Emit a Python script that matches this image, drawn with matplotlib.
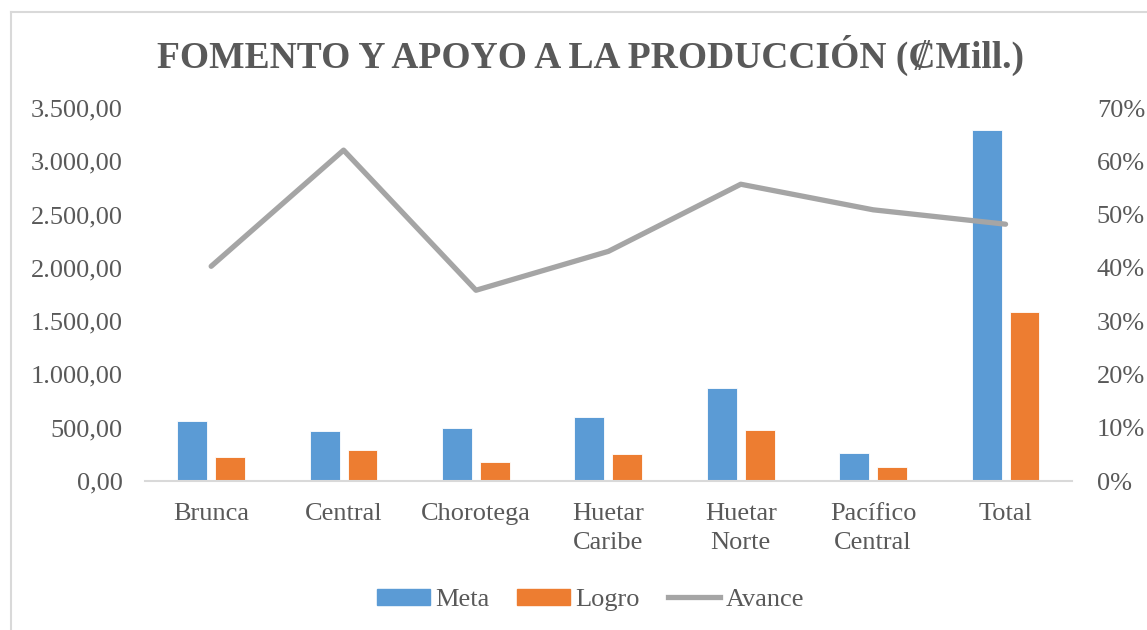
import numpy as np
import matplotlib
matplotlib.use("Agg")
import matplotlib.pyplot as plt
from matplotlib.ticker import FuncFormatter, MultipleLocator
from matplotlib.lines import Line2D

# datos
regiones = ["Brunca", "Central", "Chorotega", "Huetar\nCaribe", "Huetar\nNorte",
            "Pacífico\nCentral", "Total"]
meta = [564, 468, 499, 602, 872, 261, 3293]
logro = [226, 289, 176, 257, 483, 129, 1584]
avance = [0.403, 0.621, 0.358, 0.431, 0.557, 0.509, 0.482]

c_meta = "#5B9BD5"
c_logro = "#ED7D31"
c_avance = "#A5A5A5"
c_text = "#595959"

plt.rcParams["font.family"] = ["Liberation Serif", "DejaVu Serif"]

fig = plt.figure(figsize=(11.47, 6.30), dpi=100)
ax = fig.add_axes([0.1264, 0.2365, 0.808, 0.592])
ax2 = ax.twinx()

x = np.arange(len(regiones))
w = 0.226
ax.bar(x - 0.143, meta, w, color=c_meta, edgecolor="white", linewidth=0.6, label="Meta", zorder=2)
ax.bar(x + 0.143, logro, w, color=c_logro, edgecolor="white", linewidth=0.6, label="Logro", zorder=2)
ax2.plot(x, avance, color=c_avance, linewidth=3.8, solid_capstyle="round", label="Avance")

ax.set_xlim(-0.5, len(regiones) - 0.5)
ax.set_ylim(0, 3500)
ax2.set_ylim(0, 0.70)
ax.yaxis.set_major_locator(MultipleLocator(500))
ax2.yaxis.set_major_locator(MultipleLocator(0.1))


def miles(v, pos):
    s = f"{v:,.2f}"
    return s.replace(",", "X").replace(".", ",").replace("X", ".")


ax.yaxis.set_major_formatter(FuncFormatter(miles))
ax2.yaxis.set_major_formatter(FuncFormatter(lambda v, p: f"{v * 100:.0f}%"))

ax.set_xticks(x)
ax.set_xticklabels(regiones, linespacing=1.42)

for a in (ax, ax2):
    for s in a.spines.values():
        s.set_visible(False)
    a.tick_params(length=0, labelsize=19, labelcolor=c_text)
ax.spines["bottom"].set_visible(True)
ax.spines["bottom"].set_color("#D9D9D9")
ax.spines["bottom"].set_linewidth(1.5)
ax.tick_params(axis="x", pad=16)
ax.tick_params(axis="y", pad=16)
ax2.tick_params(axis="y", pad=18)

fig.text(0.515, 0.912, "FOMENTO Y APOYO A LA PRODUCCIÓN (₡Mill.)", ha="center", va="center",
         fontsize=27, fontweight="bold", color=c_text)

handles = [plt.Rectangle((0, 0), 1, 1, color=c_meta),
           plt.Rectangle((0, 0), 1, 1, color=c_logro),
           Line2D([0], [0], color=c_avance, linewidth=3.8)]
fig.legend(handles, ["Meta", "Logro", "Avance"], loc="center", bbox_to_anchor=(0.515, 0.048),
           ncol=3, frameon=False, fontsize=19, labelcolor=c_text, handlelength=2.0,
           handleheight=0.55, handletextpad=0.2, columnspacing=1.05)

# borde del area del grafico
fig.add_artist(Line2D([11 / 1147, 11 / 1147], [0, 1 - 12 / 630], transform=fig.transFigure,
                      color="#D9D9D9", linewidth=1.5))
fig.add_artist(Line2D([11 / 1147, 1146 / 1147], [1 - 12 / 630, 1 - 12 / 630],
                      transform=fig.transFigure, color="#D9D9D9", linewidth=1.5))

fig.savefig("out.png", dpi=100, facecolor="white")
